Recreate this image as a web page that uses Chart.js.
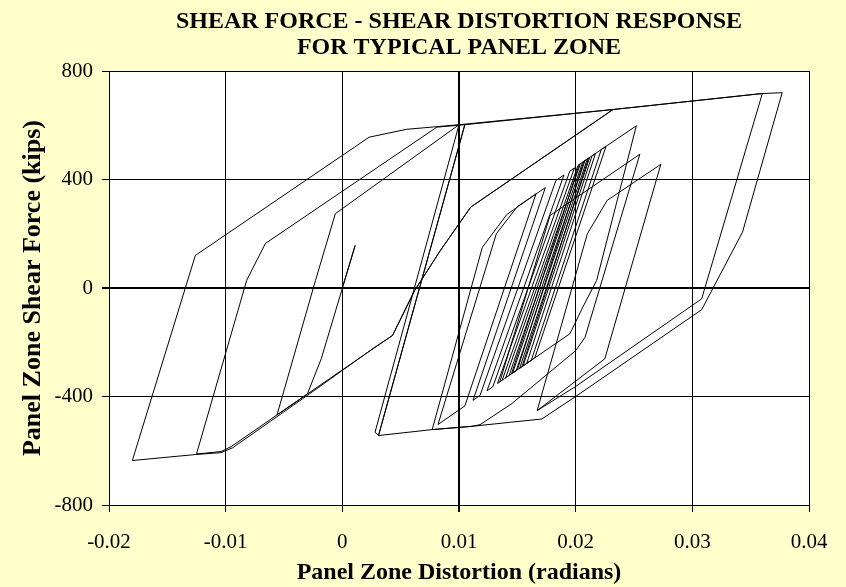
<!DOCTYPE html>
<html>
<head>
<meta charset="utf-8">
<script src="https://cdn.jsdelivr.net/npm/chart.js@4.4.0/dist/chart.umd.min.js"></script>
<style>
  html, body { margin: 0; padding: 0; background: #ffffcc; }
  #wrap { width: 846px; height: 587px; }
</style>
</head>
<body>
<div id="wrap"><canvas id="panel-chart" width="846" height="587"></canvas></div>
<script>
// Panel zone response: distortion (rad) vs shear force (kips)
const titleLines = ["SHEAR FORCE - SHEAR DISTORTION RESPONSE", "FOR TYPICAL PANEL ZONE"];
const xTicks = [-0.02, -0.01, 0, 0.01, 0.02, 0.03, 0.04];
const yTicks = [-800, -400, 0, 400, 800];

// opening cycles and the large negative excursions
const earlyCycles = [
  [0, 0], [0.0011, 157], [-0.0018, -260], [-0.0030, -391], [-0.0056, -468],
  [-0.0023, 28], [-0.0006, 274], [0.0100, 602], [0.0028, -532], [0.0031, -544],
  [0.0105, 602], [0.0081, 593], [-0.0066, 164], [-0.0082, 28], [-0.0125, -612],
  [-0.0104, -603], [-0.0095, -584], [-0.0056, -468], [-0.0030, -391], [0.0029, -216],
  [0.0043, -175], [0.0062, -9], [0.0084, 138], [0.0110, 298], [0.0232, 658],
  [0.0100, 602], [0.0055, 585], [0.0023, 556], [-0.0126, 120], [-0.0180, -636],
  [-0.0126, -614], [-0.0104, -607], [-0.0094, -589], [-0.0030, -396], [0.0027, -221],
  [0.0043, -175], [0.0062, -9], [0.0084, 138], [0.0110, 298], [0.0232, 658],
  [0.0360, 717], [0.0377, 720]
];

// peak excursion and return to the negative side
const peakReturn = [
  [0.0343, 206], [0.0308, -80], [0.0200, -400], [0.0171, -483], [0.0144, -495],
  [0.0111, -510], [0.0077, -522], [0.0120, 150], [0.0141, 271]
];

// many small cycles about a positive offset
const offsetCycles = [
  [0.0166, 347], [0.0105, -435], [0.0082, -503], [0.0132, 200], [0.0150, 300],
  [0.0174, 370], [0.0112, -414], [0.0118, -396], [0.0183, 396], [0.0190, 417],
  [0.0124, -379], [0.0129, -364], [0.0195, 431], [0.0199, 443], [0.0133, -352],
  [0.0137, -340], [0.0202, 452], [0.0204, 458], [0.0140, -331], [0.0143, -322],
  [0.0206, 464], [0.0208, 470], [0.0146, -313], [0.0149, -305], [0.0210, 476],
  [0.0212, 481], [0.0152, -296], [0.0155, -287], [0.0214, 487], [0.0217, 496],
  [0.0158, -278], [0.0162, -266], [0.0222, 511], [0.0226, 522], [0.0165, -257],
  [0.0154, -290], [0.0211, 478], [0.0207, 467], [0.0150, -302], [0.0145, -316],
  [0.0203, 455]
];

// last larger cycles
const lateCycles = [
  [0.0227, 525], [0.0252, 598], [0.0218, 28], [0.0207, -63], [0.0195, -169],
  [0.0139, -334], [0.0135, -346], [0.0178, 267], [0.0255, 493], [0.0208, -182],
  [0.0200, -231], [0.0145, -427], [0.0118, -504], [0.0111, -510], [0.0077, -522],
  [0.0031, -544], [0.0105, 602], [0.0232, 658], [0.0360, 717], [0.0308, -40],
  [0.0200, -363], [0.0167, -452], [0.0210, 200], [0.0227, 323], [0.0273, 456],
  [0.0225, -261], [0.0167, -452]
];

const trace = [].concat(earlyCycles, peakReturn, offsetCycles, lateCycles)
  .map(([x, y]) => ({ x, y }));

const serif = "'Liberation Serif', 'Times New Roman', serif";

// white plot area on the yellow page, title centred over the plot
const frame = {
  id: "frame",
  beforeDraw(chart) {
    const { ctx, chartArea: a } = chart;
    ctx.save();
    ctx.fillStyle = "#ffffff";
    ctx.fillRect(a.left, a.top, a.right - a.left, a.bottom - a.top);
    ctx.restore();
  },
  afterDraw(chart) {
    const { ctx, chartArea: a } = chart;
    const cx = (a.left + a.right) / 2;
    ctx.save();
    ctx.fillStyle = "#000000";
    ctx.font = "bold 24px " + serif;
    ctx.textAlign = "center";
    ctx.textBaseline = "alphabetic";
    ctx.fillText(titleLines[0], cx, 28);
    ctx.fillText(titleLines[1], cx, 54);
    ctx.restore();
  },
};

const ctx = document.getElementById("panel-chart");
new Chart(ctx, {
  type: "scatter",
  data: {
    datasets: [
      {
        data: trace,
        showLine: true,
        borderColor: "#000000",
        borderWidth: 1,
        pointRadius: 0,
        tension: 0,
      },
    ],
  },
  plugins: [frame],
  options: {
    responsive: false,
    animation: false,
    layout: { padding: { left: 0, right: 37, top: 71, bottom: 0 } },
    plugins: {
      legend: { display: false },
      tooltip: { enabled: false },
      title: { display: false },
    },
    scales: {
      x: {
        type: "linear",
        min: -0.02,
        max: 0.04,
        afterBuildTicks: (s) => { s.ticks = xTicks.map((v) => ({ value: v })); },
        afterFit: (s) => { s.height = 82; },
        ticks: {
          color: "#000000",
          font: { family: serif, size: 21 },
          padding: 18,
          maxRotation: 0,
          callback: (v) => String(v),
        },
        grid: {
          color: "#000000",
          lineWidth: (c) => (c.tick && c.tick.value === 0.01 ? 2 : 1),
          tickLength: 7,
        },
        border: { color: "#000000", width: 1 },
        title: {
          display: true,
          text: "Panel Zone Distortion (radians)",
          color: "#000000",
          font: { family: serif, size: 24, weight: "bold", lineHeight: 1.1 },
          padding: { top: 0, bottom: 1 },
        },
      },
      y: {
        min: -800,
        max: 800,
        afterBuildTicks: (s) => { s.ticks = yTicks.map((v) => ({ value: v })); },
        afterFit: (s) => { s.width = 109; },
        ticks: {
          color: "#000000",
          font: { family: serif, size: 21 },
          padding: 9,
        },
        grid: {
          color: "#000000",
          lineWidth: (c) => (c.tick && c.tick.value === 0 ? 2 : 1),
          tickLength: 7,
        },
        border: { color: "#000000", width: 1 },
        title: {
          display: true,
          text: "Panel Zone Shear Force (kips)",
          color: "#000000",
          font: { family: serif, size: 26, weight: "bold", lineHeight: 1.1 },
          padding: { top: 19, bottom: 0 },
        },
      },
    },
  },
});
</script>
</body>
</html>
